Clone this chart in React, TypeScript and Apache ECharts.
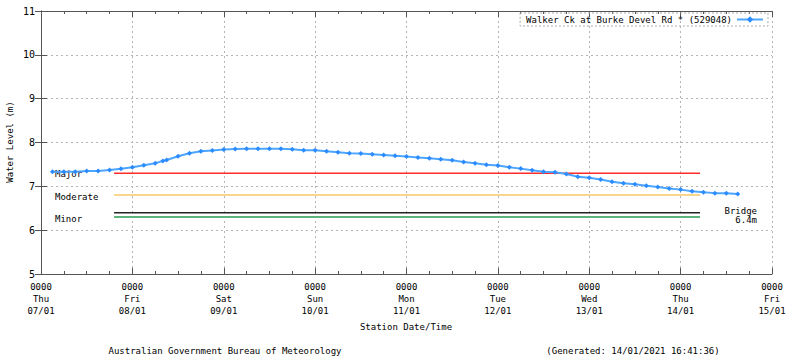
import React, { useEffect, useRef } from "react";
import * as echarts from "echarts";

// Hours since Thu 07/01 00:00
const hours = [
  3, 6, 9, 12, 15, 18, 21, 24, 27, 30, 32, 33, 36, 39, 42, 45, 48, 51, 54, 57,
  60, 63, 66, 69, 72, 75, 78, 81, 84, 87, 90, 93, 96, 99, 102, 105, 108, 111,
  114, 117, 120, 123, 126, 129, 132, 135, 138, 141, 144, 147, 150, 153, 156,
  159, 162, 165, 168, 171, 174, 177, 180, 183,
];
const levels = [
  7.335, 7.335, 7.335, 7.35, 7.35, 7.374, 7.4, 7.436, 7.48, 7.525, 7.58, 7.6,
  7.685, 7.756, 7.8, 7.82, 7.84, 7.85, 7.86, 7.86, 7.86, 7.86, 7.845, 7.825,
  7.824, 7.8, 7.78, 7.756, 7.75, 7.733, 7.717, 7.7, 7.678, 7.66, 7.64, 7.62,
  7.596, 7.555, 7.527, 7.495, 7.473, 7.436, 7.404, 7.368, 7.335, 7.32, 7.28,
  7.22, 7.195, 7.155, 7.107, 7.068, 7.05, 7.015, 6.985, 6.95, 6.925, 6.89,
  6.865, 6.845, 6.84, 6.825,
];

const seriesName = "Walker Ck at Burke Devel Rd * (529048)";
const dayNames = ["Thu", "Fri", "Sat", "Sun", "Mon", "Tue", "Wed", "Thu", "Fri"];
const dayDates = ["07/01", "08/01", "09/01", "10/01", "11/01", "12/01", "13/01", "14/01", "15/01"];
const tickTime = "0000";

const thresholdNames = ["Major", "Moderate", "Bridge", "Minor"];
const thresholdValues = [7.3, 6.8, 6.4, 6.3];
const thresholdColors = ["#ff2a2a", "#f8d68c", "#222222", "#5cb47c"];
const thresholdWidths = [1.5, 2, 1.5, 2];
const thresholdStart = 19.2;
const thresholdEnd = 173.1;

const FONT = "DejaVu Sans Mono";

export default function App() {
  const ref = useRef<HTMLDivElement>(null);

  useEffect(() => {
    document.body.style.margin = "0";
    const chart = echarts.init(ref.current as HTMLDivElement, null, { renderer: "svg" });

    const axisColor = "#555";
    const gridLine = { show: true, lineStyle: { color: "#b4b4b4", type: [2, 3] as any, width: 1 } };

    const thresholdSeries = thresholdValues.map((v, i) => ({
      name: thresholdNames[i],
      type: "line",
      silent: true,
      symbol: "none",
      data: [
        [thresholdStart, v],
        [thresholdEnd, v],
      ],
      lineStyle: { color: thresholdColors[i], width: thresholdWidths[i] },
      z: 2,
    }));

    const option: any = {
      animation: false,
      backgroundColor: "#ffffff",
      textStyle: { fontFamily: FONT },
      grid: { left: 41, right: 28, top: 11, bottom: 84 },
      legend: {
        data: [seriesName],
        right: 32,
        top: 13,
        align: "right",
        itemWidth: 26,
        itemHeight: 8,
        padding: [2, 4, 2, 6],
        borderColor: "#aaaaaa",
        borderWidth: 1,
        borderType: [2, 2],
        textStyle: { fontFamily: FONT, fontSize: 9, color: "#000" },
      },
      xAxis: [
        {
          type: "value",
          position: "bottom",
          min: 0,
          max: 192,
          interval: 24,
          axisLine: { lineStyle: { color: axisColor, width: 1 } },
          axisTick: { inside: true, length: 6, lineStyle: { color: axisColor } },
          minorTick: { show: true, splitNumber: 4, length: 3, lineStyle: { color: axisColor } },
          splitLine: gridLine,
          axisLabel: {
            margin: 7,
            fontFamily: FONT,
            fontSize: 9,
            color: "#000",
            lineHeight: 12,
            formatter: (v: number) => {
              const i = Math.round(v / 24);
              return `${tickTime}\n${dayNames[i]}\n${dayDates[i]}`;
            },
          },
        },
        {
          type: "value",
          position: "top",
          min: 0,
          max: 192,
          interval: 24,
          axisLine: { show: true, lineStyle: { color: axisColor, width: 1 } },
          axisTick: { inside: true, length: 6, lineStyle: { color: axisColor } },
          minorTick: { show: true, splitNumber: 4, length: 3, lineStyle: { color: axisColor } },
          splitLine: { show: false },
          axisLabel: { show: false },
        },
      ],
      yAxis: [
        {
          type: "value",
          position: "left",
          min: 5,
          max: 11,
          interval: 1,
          axisLine: { show: true, lineStyle: { color: axisColor, width: 1 } },
          axisTick: { show: true, inside: true, length: 6, lineStyle: { color: axisColor } },
          splitLine: gridLine,
          axisLabel: { margin: 6, fontFamily: FONT, fontSize: 10, color: "#000" },
        },
        {
          type: "value",
          position: "right",
          min: 5,
          max: 11,
          interval: 1,
          axisLine: { show: true, lineStyle: { color: axisColor, width: 1 } },
          axisTick: { show: true, inside: true, length: 6, lineStyle: { color: axisColor } },
          splitLine: { show: false },
          axisLabel: { show: false },
        },
      ],
      series: [
        ...thresholdSeries,
        {
          name: seriesName,
          type: "line",
          data: hours.map((h, i) => [h, levels[i]]),
          symbol: "diamond",
          symbolSize: 5,
          showSymbol: true,
          lineStyle: { color: "#4ea6ff", width: 2 },
          itemStyle: { color: "#2b8bff" },
          z: 5,
        },
      ],
    };

    chart.setOption(option);

    const py = (v: number) => chart.convertToPixel({ yAxisIndex: 0 }, v) as number;
    const txt = (text: string, x: number, y: number, align: string, extra: any = {}) => ({
      type: "text",
      x,
      y,
      silent: true,
      style: {
        text,
        fontFamily: FONT,
        fontSize: 9,
        fill: "#000",
        align,
        verticalAlign: "middle",
        ...extra,
      },
    });

    chart.setOption({
      graphic: [
        txt(thresholdNames[0], 55, py(thresholdValues[0]) + 1, "left"),
        txt(thresholdNames[1], 55, py(thresholdValues[1]) + 1.5, "left"),
        txt(thresholdNames[3], 55, py(thresholdValues[3]) + 1.5, "left"),
        txt(thresholdNames[2], 757, py(thresholdValues[2]) - 1.5, "right"),
        txt(`${thresholdValues[2]}m`, 757, py(thresholdValues[2]) + 7.5, "right"),
        {
          type: "text",
          x: 10,
          y: 142,
          rotation: Math.PI / 2,
          silent: true,
          style: {
            text: "Water Level (m)",
            fontFamily: FONT,
            fontSize: 9,
            fill: "#000",
            align: "center",
            verticalAlign: "middle",
          },
        },
        txt("Station Date/Time", 406, 327, "center"),
        txt("Australian Government Bureau of Meteorology", 225, 351, "center"),
        txt("(Generated: 14/01/2021 16:41:36)", 633, 351, "center"),
      ],
    });

    return () => chart.dispose();
  }, []);

  return (
    <div
      ref={ref}
      style={{ position: "absolute", left: 0, top: 0, width: 800, height: 358, background: "#fff" }}
    />
  );
}
